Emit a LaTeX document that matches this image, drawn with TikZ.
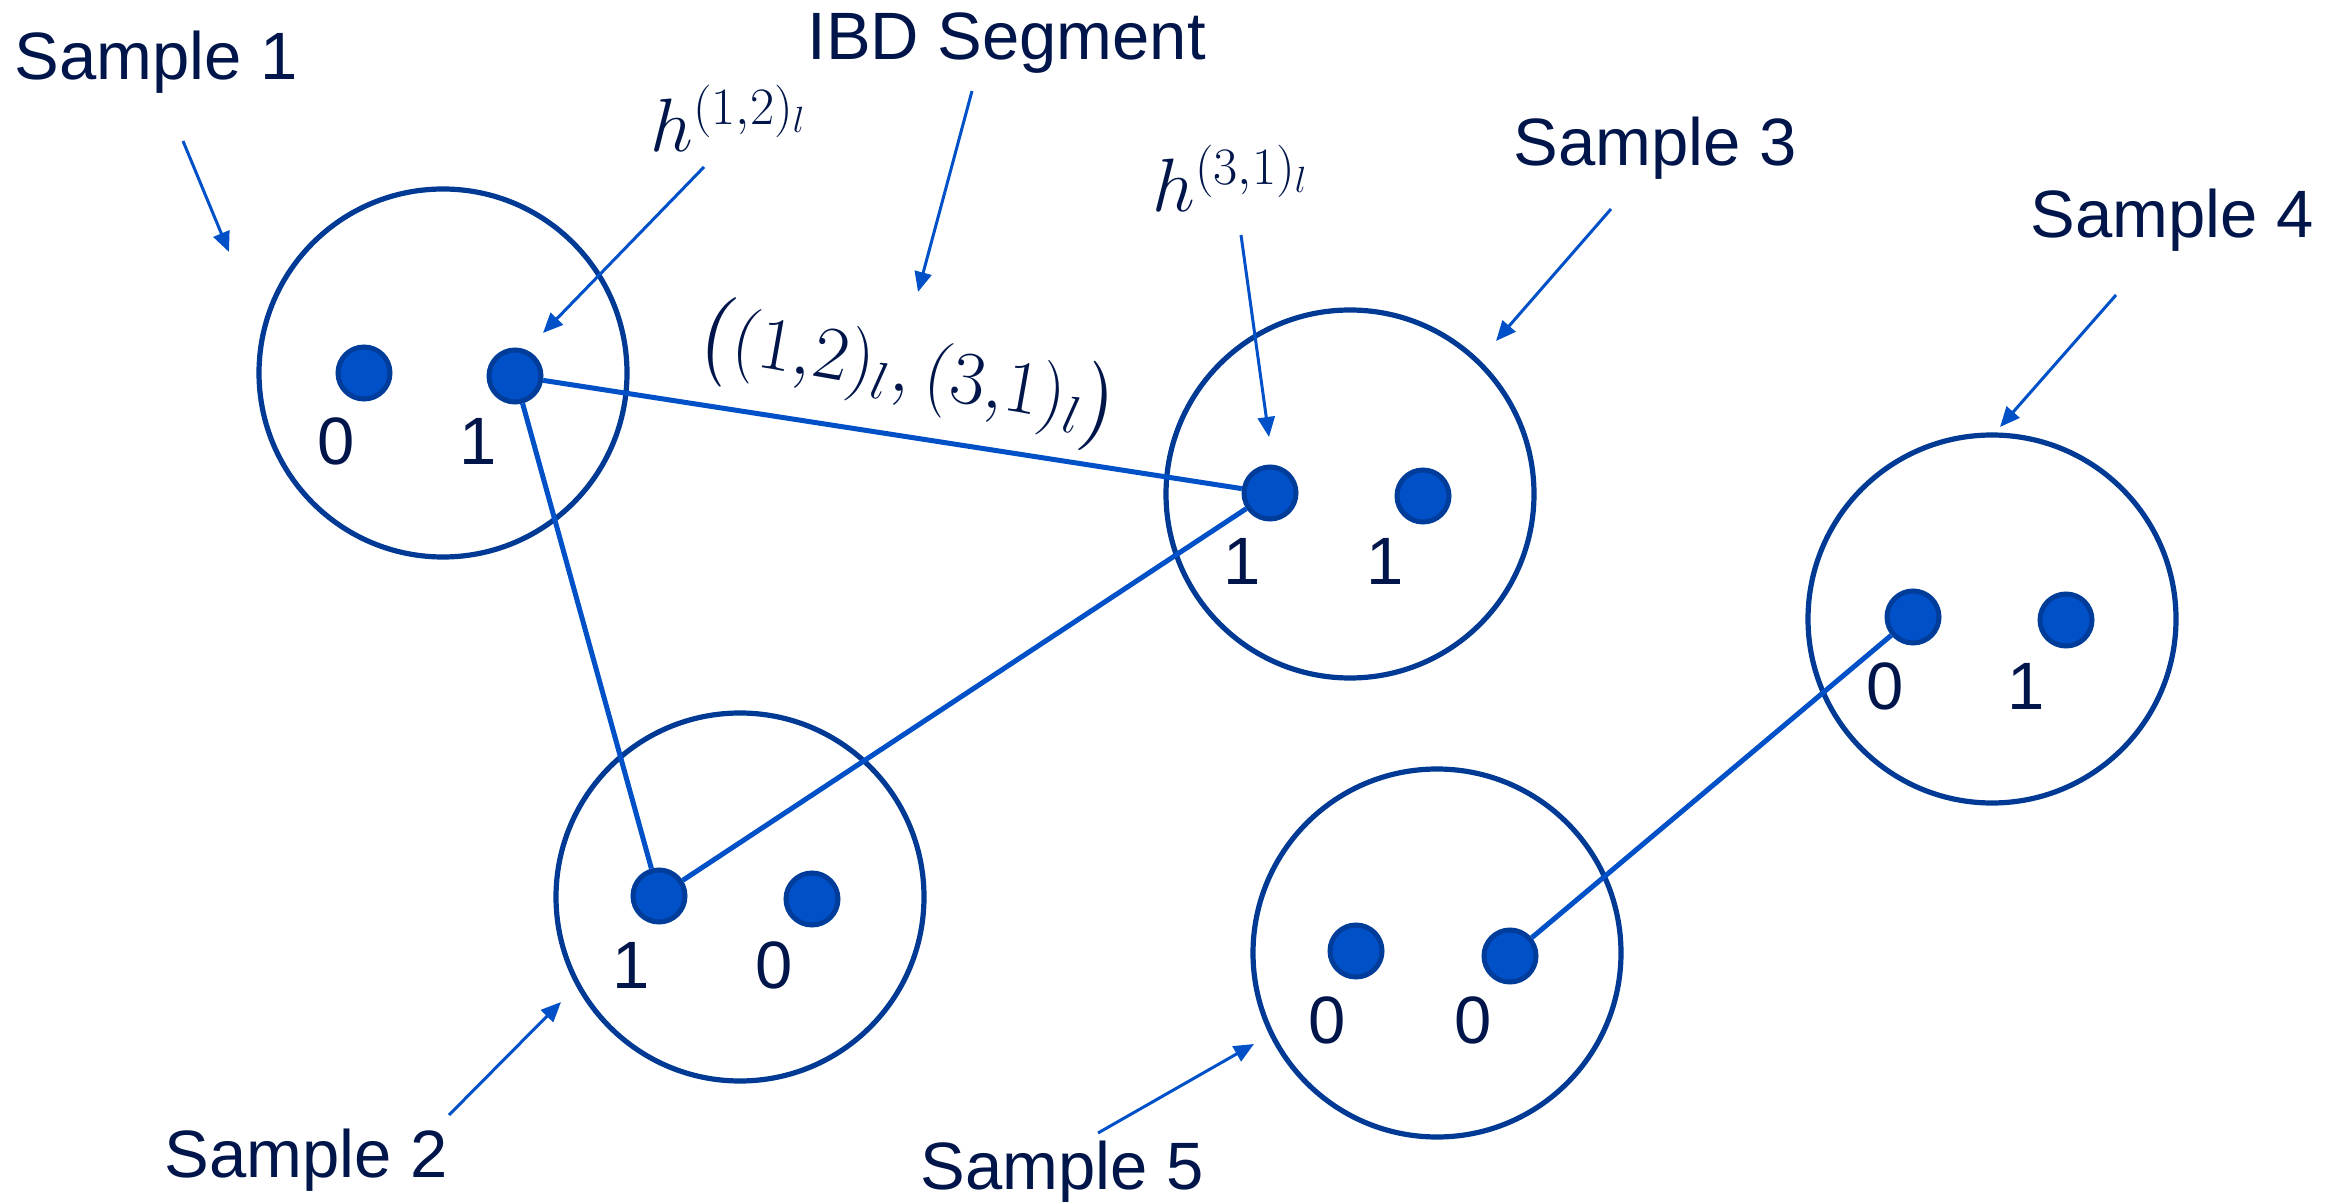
\documentclass[tikz,border=0pt]{standalone}
\usepackage{amsmath}
\usepackage[no-math]{fontspec}
\setmainfont{Liberation Sans}
\usetikzlibrary{arrows.meta}
\DeclareMathSizes{24.88}{24.88}{17.28}{12}

\definecolor{ink}{HTML}{00164B}
\definecolor{ring}{HTML}{003A94}
\definecolor{dotfill}{HTML}{0050C8}
\definecolor{dotedge}{HTML}{003C9A}
\definecolor{wire}{HTML}{0050C8}

\tikzset{
  sample/.style={circle, draw=ring, line width=2.6pt, minimum size=184pt, inner sep=0pt},
  allele/.style={circle, fill=dotfill, draw=dotedge, line width=2.5pt, minimum size=26pt, inner sep=0pt},
  bit/.style={anchor=base, inner sep=0pt, text=ink, font=\fontsize{33.5}{40}\selectfont},
  caption/.style={anchor=base west, inner sep=0pt, text=ink, font=\fontsize{33.5}{40}\selectfont},
  mathlabel/.style={inner sep=0pt, text=ink, scale=1.52, font=\fontsize{24.88}{30}\selectfont},
  ibd/.style={draw=wire, line width=2.5pt},
  pointer/.style={draw=wire, line width=1.5pt, -{Triangle[length=10pt,width=8.5pt]}}
}

\begin{document}
\begin{tikzpicture}[x=0.5pt, y=-0.5pt]
\useasboundingbox (0,0) rectangle (2349,1202);

% samples
\node[sample] (s1) at (443,373) {};
\node[sample] (s2) at (740,897) {};
\node[sample] (s3) at (1350,494) {};
\node[sample] (s4) at (1992,619) {};
\node[sample] (s5) at (1437,953) {};

% haplotypes
\node[allele] (a11) at (364,373) {};
\node[allele] (a12) at (515,376) {};
\node[allele] (a21) at (659,896) {};
\node[allele] (a22) at (812,899) {};
\node[allele] (a31) at (1270,493) {};
\node[allele] (a32) at (1423,496) {};
\node[allele] (a41) at (1913,617) {};
\node[allele] (a42) at (2066,620) {};
\node[allele] (a51) at (1356,951) {};
\node[allele] (a52) at (1510,956) {};

% alleles
\node[bit] (b11) at (336,465) {0};
\node[bit] (b12) at (478,465) {1};
\node[bit] (b21) at (631,988) {1};
\node[bit] (b22) at (774,988) {0};
\node[bit] (b31) at (1242,585) {1};
\node[bit] (b32) at (1385,585) {1};
\node[bit] (b41) at (1885,709) {0};
\node[bit] (b42) at (2026,709) {1};
\node[bit] (b51) at (1327,1043) {0};
\node[bit] (b52) at (1473,1043) {0};

% IBD segments
\draw[ibd] (a12) -- (a31);
\draw[ibd] (a12) -- (a21);
\draw[ibd] (a21) -- (a31);
\draw[ibd] (a41) -- (a52);

% captions
\node[caption] (t1) at (14,80) {Sample 1};
\node[caption] (tibd) at (807,60) {IBD Segment};
\node[caption] (t3) at (1513,166) {Sample 3};
\node[caption] (t4) at (2030,238) {Sample 4};
\node[caption] (t2) at (164,1177) {Sample 2};
\node[caption] (t5) at (920,1189) {Sample 5};

\node[mathlabel, anchor=base] (h12) at (729,152) {$h^{(1{,}2)_l}$};
\node[mathlabel, anchor=base] (h31) at (1231,212) {$h^{(3{,}1)_l}$};
\node[mathlabel, rotate=-10] (seg) at (908,374) {$\bigl((1{,}2)_l,(3{,}1)_l\bigr)$};

% pointer arrows
\coordinate (p1a) at (183,141);   \coordinate (p1b) at (229,252);
\coordinate (p2a) at (449,1115);  \coordinate (p2b) at (561,1002);
\coordinate (p3a) at (1611,209);  \coordinate (p3b) at (1496,341);
\coordinate (p4a) at (2116,295);  \coordinate (p4b) at (2000,427);
\coordinate (p5a) at (1098,1133); \coordinate (p5b) at (1254,1044);
\coordinate (pha) at (704,167);   \coordinate (phb) at (543,333);
\coordinate (pia) at (972,91);    \coordinate (pib) at (918,292);
\coordinate (pka) at (1241,235);  \coordinate (pkb) at (1269,437);

\draw[pointer] (p1a) -- (p1b);
\draw[pointer] (p2a) -- (p2b);
\draw[pointer] (p3a) -- (p3b);
\draw[pointer] (p4a) -- (p4b);
\draw[pointer] (p5a) -- (p5b);
\draw[pointer] (pha) -- (phb);
\draw[pointer] (pia) -- (pib);
\draw[pointer] (pka) -- (pkb);
\end{tikzpicture}
\end{document}
